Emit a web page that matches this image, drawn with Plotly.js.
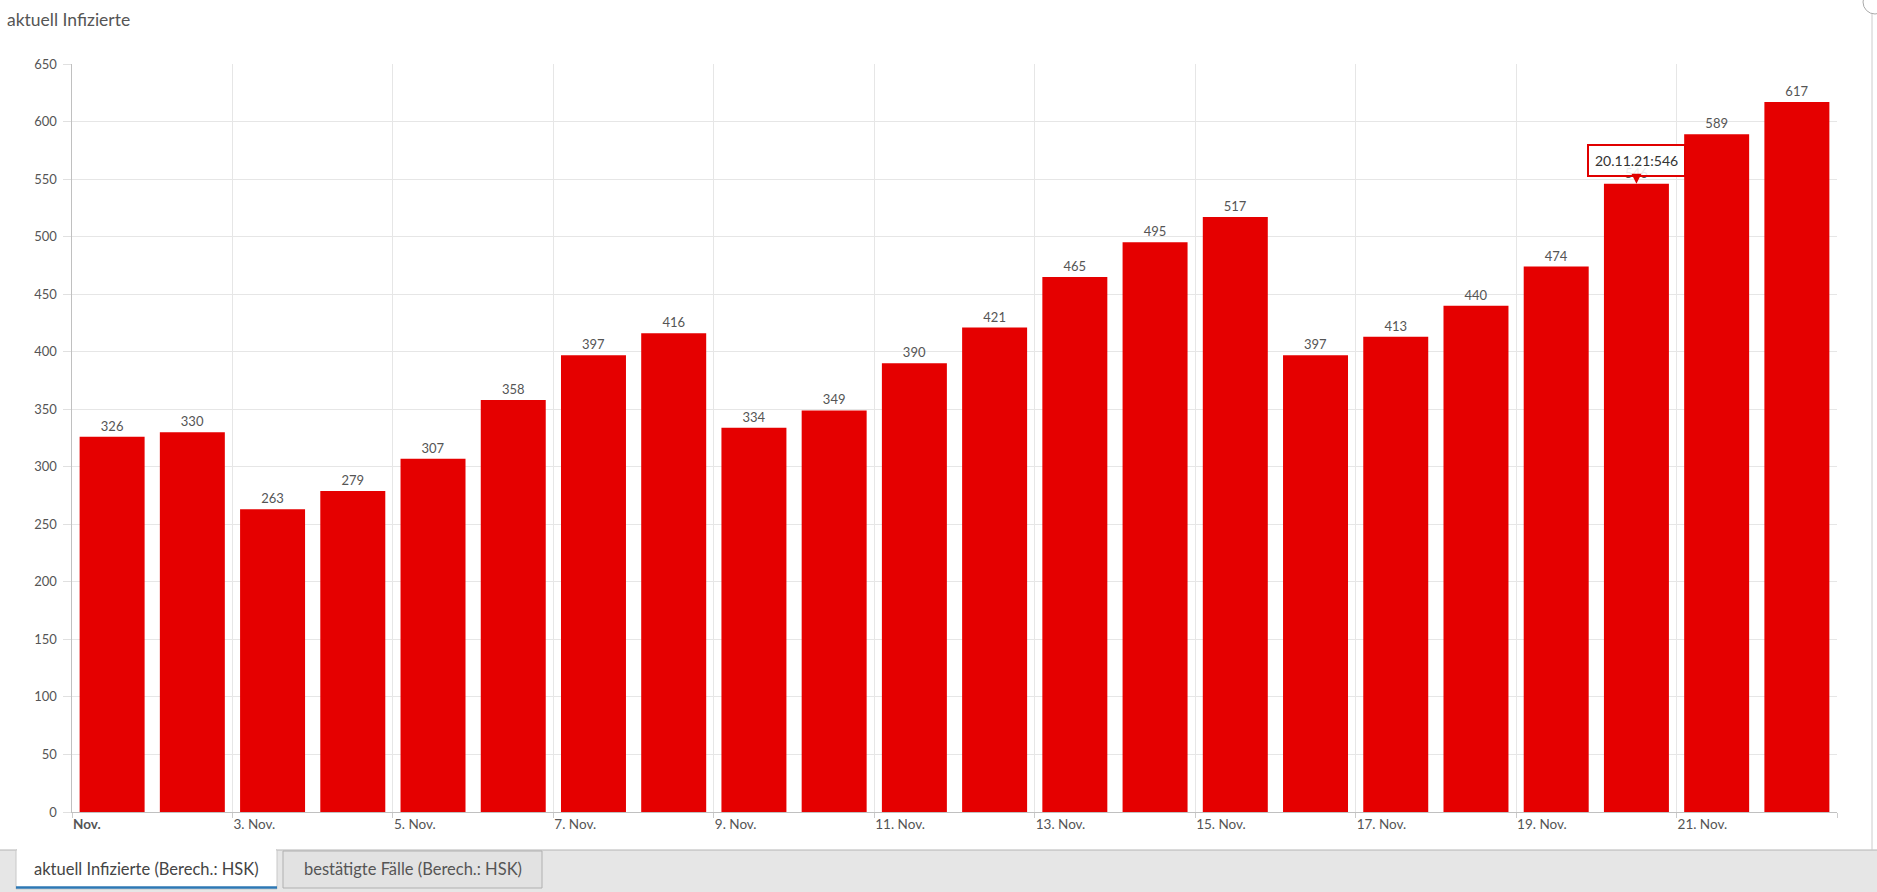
<!DOCTYPE html>
<html>
<head>
<meta charset="utf-8">
<script src="https://cdn.plot.ly/plotly-3.0.1.min.js"></script>
<style>
  html, body { margin: 0; padding: 0; background: #ffffff; }
  #chart { width: 1877px; height: 892px; }
</style>
</head>
<body>
<div id="chart"></div>
<script>
// ---- data ----
const days = [
  '2021-11-01 12:00', '2021-11-02 12:00', '2021-11-03 12:00', '2021-11-04 12:00',
  '2021-11-05 12:00', '2021-11-06 12:00', '2021-11-07 12:00', '2021-11-08 12:00',
  '2021-11-09 12:00', '2021-11-10 12:00', '2021-11-11 12:00', '2021-11-12 12:00',
  '2021-11-13 12:00', '2021-11-14 12:00', '2021-11-15 12:00', '2021-11-16 12:00',
  '2021-11-17 12:00', '2021-11-18 12:00', '2021-11-19 12:00', '2021-11-20 12:00',
  '2021-11-21 12:00', '2021-11-22 12:00'
];
const infected = [326, 330, 263, 279, 307, 358, 397, 416, 334, 349, 390, 421,
                  465, 495, 517, 397, 413, 440, 474, 546, 589, 617];
const tickDates = ['2021-11-01', '2021-11-03', '2021-11-05', '2021-11-07', '2021-11-09',
                   '2021-11-11', '2021-11-13', '2021-11-15', '2021-11-17', '2021-11-19',
                   '2021-11-21', '2021-11-23'];
const tickLabels = ['<b>Nov.</b>', '3. Nov.', '5. Nov.', '7. Nov.', '9. Nov.',
                    '11. Nov.', '13. Nov.', '15. Nov.', '17. Nov.', '19. Nov.',
                    '21. Nov.', ''];
const chartTitle = 'aktuell Infizierte';
const tabLabels = ['aktuell Infizierte (Berech.: HSK)', 'bestätigte Fälle (Berech.: HSK)'];
const tooltipIndex = 19;
const tooltipDate = '20.11.21';

// ---- layout helpers (pixel -> paper) ----
const W = 1877, H = 892;
const M = { l: 72, r: 40, t: 64, b: 80 };
const PW = W - M.l - M.r, PH = H - M.t - M.b;
const px = x => (x - M.l) / PW;
const py = y => (H - M.b - y) / PH;

const FONT = 'Lato, "Open Sans", "DejaVu Sans", sans-serif';

const trace = {
  type: 'bar',
  x: days,
  y: infected,
  marker: { color: '#e50000', line: { width: 0 } },
  text: infected.map(String),
  textposition: 'outside',
  textfont: { family: FONT, size: 13, color: '#555555' },
  cliponaxis: false,
  hoverinfo: 'none'
};

const shapes = [
  // tab strip background
  { type: 'rect', xref: 'paper', yref: 'paper', x0: px(0), x1: px(W), y0: py(892), y1: py(850),
    fillcolor: '#e6e6e6', line: { width: 0 }, layer: 'below' },
  { type: 'line', xref: 'paper', yref: 'paper', x0: px(0), x1: px(W), y0: py(850), y1: py(850),
    line: { color: '#b4b4b4', width: 1 } },
  // active tab
  { type: 'rect', xref: 'paper', yref: 'paper', x0: px(16), x1: px(277), y0: py(889), y1: py(850),
    fillcolor: '#ffffff', line: { color: '#c8c8c8', width: 1 } },
  { type: 'rect', xref: 'paper', yref: 'paper', x0: px(17), x1: px(276), y0: py(848), y1: py(851),
    fillcolor: '#ffffff', line: { width: 0 } },
  { type: 'line', xref: 'paper', yref: 'paper', x0: px(16), x1: px(277), y0: py(887.5), y1: py(887.5),
    line: { color: '#2e78b4', width: 2.5 } },
  // inactive tab
  { type: 'rect', xref: 'paper', yref: 'paper', x0: px(283), x1: px(542), y0: py(888), y1: py(851),
    fillcolor: '#e2e2e2', line: { color: '#b0b0b0', width: 1 } },
  // right container border
  { type: 'line', xref: 'paper', yref: 'paper', x0: px(1872), x1: px(1872), y0: py(0), y1: py(850),
    line: { color: '#cccccc', width: 1 } },
  // corner icon
  { type: 'circle', xref: 'paper', yref: 'paper', x0: px(1863), x1: px(1887), y0: py(14), y1: py(-10),
    fillcolor: '#ffffff', line: { color: '#aaaaaa', width: 1 } }
];

const annotations = [
  { xref: 'paper', yref: 'paper', x: px(146), y: py(869), text: tabLabels[0], showarrow: false,
    xanchor: 'center', yanchor: 'middle', font: { family: FONT, size: 16.5, color: '#444444' } },
  { xref: 'paper', yref: 'paper', x: px(413), y: py(869), text: tabLabels[1], showarrow: false,
    xanchor: 'center', yanchor: 'middle', font: { family: FONT, size: 16.5, color: '#555555' } },
  // tooltip
  { x: days[tooltipIndex], y: infected[tooltipIndex], xref: 'x', yref: 'y',
    text: tooltipDate + ':' + infected[tooltipIndex],
    showarrow: true, ax: 0, ay: -23, arrowhead: 2, arrowsize: 1, arrowwidth: 2,
    arrowcolor: '#e00000', standoff: 0,
    bgcolor: 'rgba(255,255,255,0.88)', bordercolor: '#e00000', borderwidth: 2, borderpad: 6,
    font: { family: FONT, size: 14, color: '#333333' } }
];

const layout = {
  width: W, height: H,
  margin: M,
  paper_bgcolor: '#ffffff',
  plot_bgcolor: '#ffffff',
  showlegend: false,
  bargap: 0.19,
  font: { family: FONT, size: 13, color: '#555555' },
  title: {
    text: chartTitle,
    xref: 'container', yref: 'container',
    x: 7 / W, xanchor: 'left',
    y: 1 - 20 / H, yanchor: 'middle',
    font: { family: FONT, size: 17.5, color: '#555555' }
  },
  xaxis: {
    type: 'date',
    range: ['2021-11-01', '2021-11-23'],
    tickmode: 'array',
    tickvals: tickDates,
    ticktext: tickLabels,
    ticklabelposition: 'outside right',
    ticks: 'outside', ticklen: 5, tickcolor: '#cccccc', tickwidth: 1,
    showgrid: true, gridcolor: '#e6e6e6', gridwidth: 1,
    showline: true, linecolor: '#c0c0c0', linewidth: 1,
    zeroline: false,
    tickfont: { family: FONT, size: 13.5, color: '#555555' },
    fixedrange: true
  },
  yaxis: {
    range: [0, 650],
    dtick: 50,
    tick0: 0,
    ticks: 'outside', ticklen: 8, tickcolor: '#e0e0e0', tickwidth: 1,
    showgrid: true, gridcolor: '#e6e6e6', gridwidth: 1,
    showline: true, linecolor: '#c0c0c0', linewidth: 1.5,
    zeroline: false,
    ticklabelstandoff: 3,
    tickfont: { family: FONT, size: 13, color: '#555555' },
    fixedrange: true
  },
  shapes: shapes,
  annotations: annotations,
  hovermode: false
};

Plotly.newPlot('chart', [trace], layout, { displayModeBar: false, staticPlot: true });
</script>
</body>
</html>
